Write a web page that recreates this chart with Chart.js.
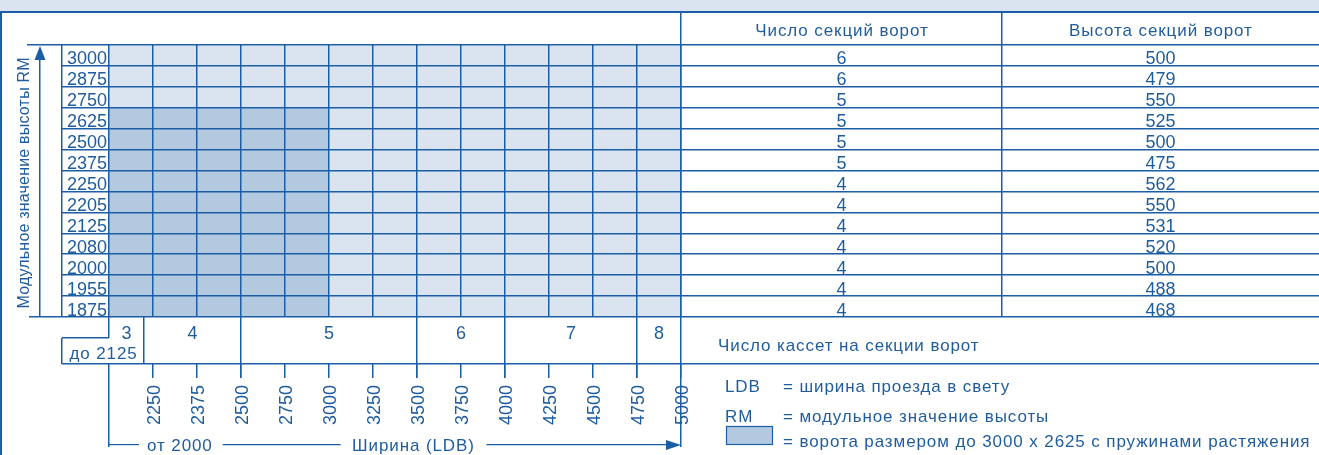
<!DOCTYPE html>
<html>
<head>
<meta charset="utf-8">
<script src="https://cdn.jsdelivr.net/npm/chart.js@4.4.1/dist/chart.umd.min.js"></script>
<style>
  html, body { margin: 0; padding: 0; background: #fff; }
  #wrap { width: 1319px; height: 455px; position: relative; }
</style>
</head>
<body>
<div id="wrap"><canvas id="c" width="1319" height="455"></canvas></div>
<script>
// ---------- DATA ----------
const heightsRM = [3000, 2875, 2750, 2625, 2500, 2375, 2250, 2205, 2125, 2080, 2000, 1955, 1875];
const widthsLDB = [2000, 2250, 2375, 2500, 2750, 3000, 3250, 3500, 3750, 4000, 4250, 4500, 4750, 5000];
const sectionCount = [6, 6, 5, 5, 5, 5, 4, 4, 4, 4, 4, 4, 4];
const sectionHeight = [500, 479, 550, 525, 500, 475, 562, 550, 531, 520, 500, 488, 468];
const cassetteCounts = ['3', '4', '5', '6', '7', '8'];
const cassetteFrom = [2000, 2125, 2500, 3500, 4000, 4750];
const cassetteTo = [2125, 2500, 3500, 4000, 4750, 5000];
const springMaxWidth = 3000;
const springMaxHeight = 2625;
const headerCount = 'Число секций ворот';
const headerHeight = 'Высота секций ворот';
const yTitle = 'Модульное значение высоты RM';
const cassetteTitle = 'Число кассет на секции ворот';
const firstLabel = 'до 2125';
const fromLabel = 'от 2000';
const xTitle = 'Ширина (LDB)';
const legendItems = [
  ['LDB', '= ширина проезда в свету'],
  ['RM', '= модульное значение высоты'],
  ['', '= ворота размером до 3000 x 2625 с пружинами растяжения']
];

// ---------- STYLE ----------
const W = 1319, H = 455;
const LINE = '#1c5ea6';
const TEXT = '#1f5c9e';
const BAND = '#d9e4f0';
const LIGHT = '#d9e4f0';
const DARK = '#b3c9df';
const FONT = '"Liberation Sans", Arial, sans-serif';
const LW = 1.5;

// cells: one floating bar per grid cell (column = width step, row = height)
const cells = [];
for (let c = 0; c < widthsLDB.length - 1; c++) {
  for (let r = 0; r < heightsRM.length; r++) {
    cells.push({
      x: c + 0.5,
      y: [r, r + 1],
      spring: widthsLDB[c + 1] <= springMaxWidth && heightsRM[r] <= springMaxHeight
    });
  }
}

function colIndexOfWidth(w) {
  const i = widthsLDB.indexOf(w);
  if (i >= 0) return i;
  // 2125 sits schematically inside the first column
  return 0.8;
}

function align(p, w) { return Math.round(p - w / 2) + w / 2; }

const drawPlugin = {
  id: 'tableLayout',
  beforeDraw(chart) {
    const ctx = chart.ctx;
    ctx.save();
    ctx.fillStyle = '#fff';
    ctx.fillRect(0, 0, W, H);
    ctx.fillStyle = BAND;
    ctx.fillRect(0, 0, W, 12);
    ctx.restore();
  },
  afterDraw(chart) {
    const ctx = chart.ctx;
    const xs = chart.scales.x, ys = chart.scales.y;
    const X = v => xs.getPixelForValue(v);
    const Y = v => ys.getPixelForValue(v);
    const nRows = heightsRM.length;
    const nCols = widthsLDB.length - 1;
    const gridL = X(0), gridR = X(nCols);
    const top = Y(0), bot = Y(nRows);
    const labL = gridL - 47;
    const axisX = 40;
    const col2 = gridR + 321;
    const frameTop = 12;
    const casB = bot + 47;
    const tickB = casB + 14;
    const arrowY = 445;

    ctx.save();
    ctx.strokeStyle = LINE;
    ctx.fillStyle = TEXT;
    const line = (x1, y1, x2, y2, w = LW) => {
      ctx.lineWidth = w;
      ctx.beginPath();
      if (x1 === x2) { x1 = x2 = align(x1, w); }
      if (y1 === y2) { y1 = y2 = align(y1, w); }
      ctx.moveTo(x1, y1); ctx.lineTo(x2, y2); ctx.stroke();
    };
    const text = (s, x, y, al = 'center', bl = 'alphabetic', size = 17, sp = 0.9) => {
      ctx.font = size + 'px ' + FONT;
      ctx.letterSpacing = sp + 'px';
      ctx.textAlign = al; ctx.textBaseline = bl;
      const dx = (al === 'center') ? sp / 2 : (al === 'right' ? sp : 0);
      ctx.fillText(s, x + dx, y);
      ctx.letterSpacing = '0px';
    };
    const measure = (s, size = 17, sp = 0.9) => {
      ctx.font = size + 'px ' + FONT;
      ctx.letterSpacing = sp + 'px';
      const w = ctx.measureText(s).width;
      ctx.letterSpacing = '0px';
      return w;
    };

    // outer frame
    line(0, frameTop, W, frameTop, 2);
    line(1, frameTop, 1, H, 2);

    // row lines (label column + right table)
    for (let i = 0; i <= nRows; i++) {
      const y = Y(i);
      const startX = (i === 0) ? 27 : (i === nRows ? 29 : labL);
      line(startX, y, gridL, y);
      line(gridR, y, W, y);
    }
    // vertical lines
    line(labL, top, labL, bot);
    line(gridR, frameTop, gridR, arrowY + 2);
    line(col2, frameTop, col2, bot);

    // header
    text(headerCount, (gridR + col2) / 2, 36);
    text(headerHeight, (col2 + W) / 2, 36);

    // row labels and right table values
    for (let i = 0; i < nRows; i++) {
      const yb = Y(i + 1) - 1.5;
      text(String(heightsRM[i]), gridL - 2, yb, 'right', 'alphabetic', 18, 0);
      text(String(sectionCount[i]), (gridR + col2) / 2, yb, 'center', 'alphabetic', 18, 0);
      text(String(sectionHeight[i]), (col2 + W) / 2, yb, 'center', 'alphabetic', 18, 0);
    }

    // y axis arrow and title
    line(axisX, bot, axisX, top + 10);
    ctx.beginPath();
    ctx.moveTo(axisX, top + 1);
    ctx.lineTo(axisX - 5.5, top + 15);
    ctx.lineTo(axisX + 5.5, top + 15);
    ctx.closePath();
    ctx.fillStyle = LINE; ctx.fill();
    ctx.fillStyle = TEXT;
    ctx.save();
    ctx.translate(29, (top + bot) / 2 + 2);
    ctx.rotate(-Math.PI / 2);
    text(yTitle, 0, 0, 'center', 'alphabetic', 16, 0.2);
    ctx.restore();

    // cassette row
    const x2125 = X(colIndexOfWidth(2125));
    line(gridL, bot, gridL, bot + 21);
    line(labL, bot + 21, gridL, bot + 21);
    line(labL, bot + 21, labL, casB);
    line(labL, casB, W, casB);
    for (let k = 0; k < cassetteCounts.length; k++) {
      const a = X(colIndexOfWidth(cassetteFrom[k]));
      const b = X(colIndexOfWidth(cassetteTo[k]));
      text(cassetteCounts[k], (a + b) / 2, bot + 22, 'center', 'alphabetic', 18, 0);
      if (k > 0 && cassetteFrom[k] !== 2125) line(a, bot, a, tickB);
    }
    line(x2125, bot, x2125, casB);
    text(firstLabel, (labL + x2125) / 2, casB - 5);
    text(cassetteTitle, gridR + 37, bot + 34, 'left');

    // width ticks and rotated labels
    for (let i = 1; i <= nCols; i++) {
      const x = X(i);
      line(x, casB, x, tickB);
      ctx.save();
      ctx.translate(x + 7, tickB + 7);
      ctx.rotate(-Math.PI / 2);
      text(String(widthsLDB[i]), 0, 0, 'right', 'alphabetic', 18, 0);
      ctx.restore();
    }

    // bottom bracket "от 2000 —— Ширина (LDB) ——>"
    line(gridL, casB, gridL, arrowY + 2);
    const w1 = measure(fromLabel);
    const t1 = gridL + 38;
    line(gridL, arrowY, t1 - 8, arrowY, 1.2);
    text(fromLabel, t1, arrowY + 6, 'left');
    const t2c = 413;
    const w2 = measure(xTitle);
    line(t1 + w1 + 10, arrowY, t2c - w2 / 2 - 11, arrowY, 1.2);
    text(xTitle, t2c, arrowY + 6);
    line(t2c + w2 / 2 + 12, arrowY, gridR - 10, arrowY, 1.2);
    ctx.beginPath();
    ctx.moveTo(gridR, arrowY);
    ctx.lineTo(gridR - 15, arrowY - 5);
    ctx.lineTo(gridR - 15, arrowY + 5);
    ctx.closePath();
    ctx.fillStyle = LINE; ctx.fill();
    ctx.fillStyle = TEXT;

    // legend
    const lx = gridR + 44, ex = gridR + 102;
    const lys = [392, 421.5, 447];
    for (let k = 0; k < legendItems.length; k++) {
      if (legendItems[k][0]) text(legendItems[k][0], lx, lys[k], 'left');
      text(legendItems[k][1], ex, lys[k], 'left');
    }
    ctx.fillStyle = DARK;
    ctx.fillRect(lx + 1, 426, 47, 19);
    ctx.lineWidth = 1.2;
    ctx.strokeRect(lx + 1.5, 426.5, 46, 18);

    ctx.restore();
  }
};

new Chart(document.getElementById('c'), {
  type: 'bar',
  data: {
    datasets: [{
      label: 'cells',
      data: cells,
      grouped: false,
      barPercentage: 1,
      categoryPercentage: 1,
      borderWidth: 0,
      backgroundColor: ctx => (ctx.raw && ctx.raw.spring) ? DARK : LIGHT
    }]
  },
  options: {
    responsive: false,
    animation: false,
    devicePixelRatio: 1,
    layout: { padding: { left: 109, top: 45, right: 638, bottom: 138 } },
    plugins: { legend: { display: false }, tooltip: { enabled: false } },
    scales: {
      x: {
        type: 'linear', min: 0, max: widthsLDB.length - 1, offset: false,
        ticks: { display: false, stepSize: 1 },
        grid: { color: LINE, lineWidth: LW, drawTicks: false, offset: false, z: 1 },
        border: { display: false }
      },
      y: {
        type: 'linear', reverse: true, min: 0, max: heightsRM.length,
        ticks: { display: false, stepSize: 1 },
        grid: { color: LINE, lineWidth: LW, drawTicks: false, offset: false, z: 1 },
        border: { display: false }
      }
    }
  },
  plugins: [drawPlugin]
});
</script>
</body>
</html>
